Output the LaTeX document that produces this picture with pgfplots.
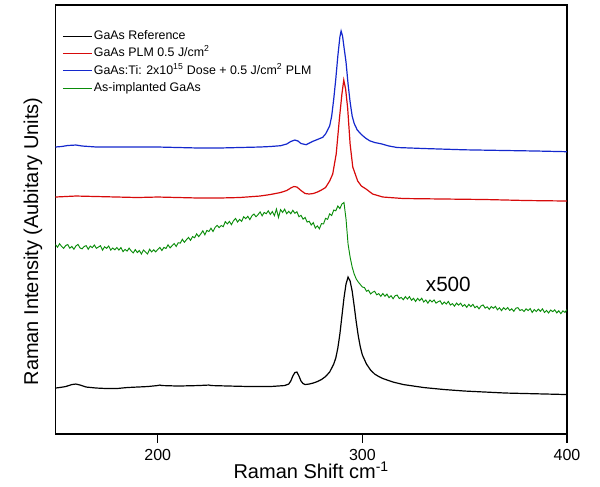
\documentclass[border=0pt]{standalone}
\usepackage{pgfplots}
\pgfplotsset{compat=1.18}
\usepackage{fontspec}
\setmainfont{Liberation Sans}
\definecolor{cblack}{RGB}{0,0,0}
\definecolor{cred}{RGB}{215,10,10}
\definecolor{cblue}{RGB}{20,40,205}
\definecolor{cgreen}{RGB}{10,140,10}
\begin{document}
\begin{tikzpicture}
\begin{axis}[
  scale only axis,
  width=383.6pt, height=321.75pt,
  xmin=150, xmax=400, ymin=0, ymax=429,
  xtick={200,300,400}, ytick=\empty,
  tick align=outside, xtick pos=bottom,
  major tick length=6.5pt,
  axis line style={line width=0.9pt},
  every tick/.style={line width=0.9pt, black},
  /pgf/number format/assume math mode=true,
  xticklabel style={font=\fontsize{12}{14}\selectfont, yshift=-1.5pt},
  xlabel={Raman Shift cm\textsuperscript{-1}},
  xlabel style={font=\fontsize{15}{18}\selectfont, at={(axis description cs:0.5,0)}, anchor=base, yshift=-33pt},
  ylabel={Raman Intensity (Aubitary Units)},
  ylabel style={font=\fontsize{15}{18}\selectfont, at={(axis description cs:-0.044,0.449)}, anchor=center},
  legend cell align=left,
  legend style={at={(axis description cs:0.013,0.945)}, anchor=north west, draw=none, fill=none,
    inner sep=0pt, row sep=2pt, font=\fontsize{9.3}{11}\selectfont,
    nodes={inner sep=1pt, text height=7pt, text depth=2pt}},
  legend image code/.code={\draw[#1] (0pt,0pt) -- (21.75pt,0pt);},
  every axis plot/.append style={line width=0.9pt},
]
% GaAs Reference
\addplot[cblack] coordinates {
(150,46) (152,46.5) (155,47.5) (158,49.5) (160,50) (162,49) (165,47) (170,46) (175,45.5) (180,45.5)
(185,46.5) (190,47) (195,47.5) (200,48.5) (201,49) (202,48.5) (210,48) (220,48.5) (225,49) (226,48.5)
(235,48) (245,47.5) (255,47.5) (262,48.5) (264,50) (265,53) (266,58) (267,61.5) (268,62) (269,58)
(270,53) (271,50.5) (272,49.5) (274,50) (276,51) (278,52.5) (280,54.5) (282,57.5) (284,62) (286,70)
(287,76) (288,86) (289,100) (290,118) (291,136) (292,150) (293,157) (294,153) (295,143) (296,128)
(297,112) (298,98) (299,87) (300,79) (302,70) (304,64) (306,60) (308,57.5) (310,55.5) (315,52)
(320,49.5) (325,48) (330,46.5) (340,44.5) (350,43) (360,42) (370,41) (380,40.5) (390,40) (400,39.5)
};
\addlegendentry{GaAs Reference}
% GaAs PLM
\addplot[cred] coordinates {
(150,237) (155,237.5) (160,238) (170,237.5) (180,237) (190,236.5) (200,237) (210,236.5) (220,236) (230,236)
(240,236.5) (250,238) (255,239.5) (260,241.5) (263,243.5) (265,246) (266.5,247.5) (268,247) (270,243.5) (272,240.5)
(274,240) (276,240.5) (278,242) (280,244) (282,246.5) (284,253) (285.5,260) (287.2,280) (288.8,316) (290,340)
(290.9,354) (291.8,345) (292.8,326) (294,290) (295.3,267) (297.7,253) (299.5,248) (301.8,245) (305,240) (310,237)
(320,235.5) (340,235) (360,234.5) (380,233.5) (400,233)
};
\addlegendentry{GaAs PLM 0.5 J/cm\textsuperscript{2}}
% GaAs:Ti
\addplot[cblue] coordinates {
(150,287) (153,287.5) (156,288.5) (160,289) (163,288) (170,287) (180,287) (200,287) (210,286.5) (220,286)
(230,286) (240,286.5) (250,287) (255,287.5) (260,288.3) (263,290) (265,292.5) (267,294) (268.5,293) (270,290.5)
(272.5,289.3) (275.8,292.7) (278,294.5) (280.6,296.7) (282,300) (284,308) (285,318) (286,335) (287,355) (288,378)
(289,397) (289.6,403) (290.3,398) (291,387) (292,372) (293,350) (294,332) (295,318) (296,310.5) (297.5,304)
(299.5,299.5) (301.5,296) (303.5,293.3) (306,291.5) (309,290.3) (313,288) (317,286.5) (330,285.5) (350,284.2) (370,283.5)
(385,283) (400,282.3)
};
\addlegendentry{GaAs:Ti: 2x10\textsuperscript{15} Dose + 0.5 J/cm\textsuperscript{2} PLM}
% As-implanted
\addplot[cgreen, line width=0.7pt] coordinates {
(150,189.5) (151,186.8) (152,190.3) (153,187.6) (154,185.7) (155,188.5) (156,189.5) (157,185.8) (158,187.6) (159,184.8)
(160,188.1) (161,189.6) (162,186.1) (163,185.2) (164,187.5) (165,188.4) (166,184.8) (167,187.9) (168,186.4) (169,189.0)
(170,185.7) (171,187.0) (172,188.3) (173,183.9) (174,187.2) (175,185.7) (176,188.0) (177,183.9) (178,186.0) (179,184.2)
(180,186.5) (181,184.0) (182,186.4) (183,182.4) (184,184.6) (185,182.9) (186,185.9) (187,183.1) (188,181.1) (189,184.4)
(190,181.5) (191,183.5) (192,180.0) (193,184.0) (194,182.0) (195,180.1) (196,184.8) (197,182.1) (198,184.2) (199,182.2)
(200,184.6) (201,186.6) (202,183.5) (203,186.6) (204,185.5) (205,189.2) (206,186.2) (207,188.3) (208,190.5) (209,187.6)
(210,191.3) (211,190.9) (212,194.7) (213,191.7) (214,194.3) (215,196.6) (216,193.7) (217,197.4) (218,196.3) (219,200.2)
(220,197.4) (221,200.1) (222,203.2) (223,199.2) (224,203.6) (225,202.5) (226,205.8) (227,202.5) (228,206.6) (229,208.7)
(230,206.4) (231,208.5) (232,207.4) (233,212.4) (234,210.1) (235,212.6) (236,209.4) (237,213.3) (238,215.6) (239,212.0)
(240,214.6) (241,212.7) (242,217.3) (243,215.4) (244,217.7) (245,214.4) (246,218.2) (247,220.0) (248,217.3) (249,219.4)
(250,222.1) (251,218.2) (252,221.6) (253,220.3) (254,223.2) (255,219.6) (256,222.5) (257,218.3) (258,225.0) (259,216.5)
(260,224.4) (261,221.6) (262,224.8) (263,220.3) (264,222.7) (265,220.3) (266,223.7) (267,220.7) (268,222.3) (269,217.3)
(270,218.7) (271,214.8) (272,216.6) (273,211.9) (274,212.8) (275,209.0) (276,211.4) (277,206.0) (278,208.1) (279,205.2)
(280,210.4) (281,210.1) (282,215.7) (283,214.7) (284,220.2) (285,218.5) (286,224.0) (287,223.2) (288,228.0) (289,225.4)
(290,230.0) (291,231.5) (292,215) (293,190) (294,177) (295,167) (296,160) (297,155) (298,152) (299,149.5)
(300,147) (301,146.5) (302,142.8) (303,143.8) (304,140.1) (305,141.8) (306,142.8) (307,139.2) (308,140.4) (309,137.7)
(310,140.5) (311,137.8) (312,139.9) (313,136.4) (314,138.3) (315,135.3) (316,138.3) (317,139.0) (318,135.5) (319,136.6)
(320,134.3) (321,137.4) (322,135.0) (323,137.4) (324,133.7) (325,135.7) (326,132.6) (327,135.7) (328,133.4) (329,135.8)
(330,132.0) (331,134.0) (332,130.9) (333,134.0) (334,132.1) (335,134.1) (336,130.9) (337,132.3) (338,133.2) (339,129.7)
(340,132.0) (341,130.0) (342,132.6) (343,129.0) (344,130.4) (345,127.9) (346,130.9) (347,128.9) (348,130.8) (349,127.7)
(350,129.5) (351,126.7) (352,129.7) (353,127.4) (354,129.7) (355,126.3) (356,127.9) (357,125.2) (358,128.1) (359,129.1)
(360,125.9) (361,127.2) (362,124.7) (363,127.5) (364,125.8) (365,127.7) (366,124.2) (367,126.2) (368,123.4) (369,126.3)
(370,124.4) (371,126.5) (372,123.6) (373,125.2) (374,122.7) (375,125.8) (376,126.4) (377,123.5) (378,124.5) (379,122.5)
(380,125.2) (381,123.5) (382,125.5) (383,121.6) (384,124.5) (385,122.5) (386,124.9) (387,122.7) (388,125.2) (389,121.6)
(390,123.6) (391,121.1) (392,124.0) (393,122.4) (394,124.2) (395,121.2) (396,123.2) (397,120.4) (398,123.2) (399,121.6)
(400,124.5)
};
\addlegendentry{As-implanted GaAs}
\node[font=\fontsize{15.5}{18}\selectfont] at (axis cs:342,150) {x500};
\end{axis}
\pgfresetboundingbox
\useasboundingbox ([shift={(-41.6pt,-39pt)}]current axis.south west) rectangle ([shift={(24.75pt,3.75pt)}]current axis.north east);
\end{tikzpicture}
\end{document}
